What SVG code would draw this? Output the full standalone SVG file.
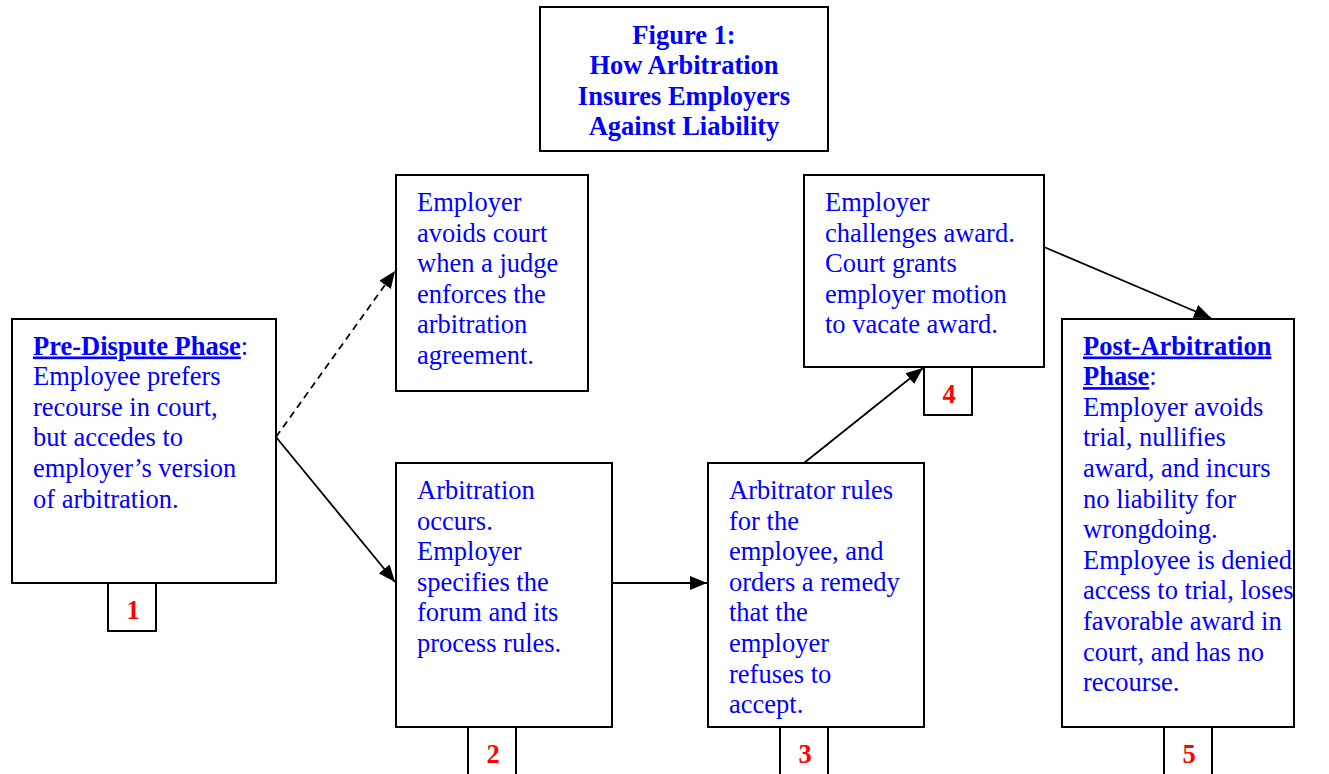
<svg xmlns="http://www.w3.org/2000/svg" width="1329" height="774" viewBox="0 0 1329 774">
<style>
.box{fill:#fff;stroke:#000;stroke-width:2}
.t{font-family:"Liberation Serif","Times New Roman",serif;font-size:26.5px;fill:#0000ff}
.b{font-weight:bold}
.u{text-decoration:underline}
.num{font-family:"Liberation Serif","Times New Roman",serif;font-size:26.5px;font-weight:bold;fill:#ff0000;text-anchor:middle}
.c{fill:none;stroke:#000;stroke-width:1.8}
</style>
<defs>
<marker id="ah" markerUnits="userSpaceOnUse" markerWidth="18" markerHeight="14" refX="17" refY="7" orient="auto">
<path d="M0,0 L17,7 L0,14 z" fill="#000"/>
</marker>
</defs>
<rect width="1329" height="774" fill="#fff"/>

<g id="title">
<rect class="box" x="540" y="7" width="288" height="144"/>
<text class="t b" text-anchor="middle" x="684" y="43.5">Figure 1:</text>
<text class="t b" text-anchor="middle" x="684" y="74">How Arbitration</text>
<text class="t b" text-anchor="middle" x="684" y="104.5">Insures Employers</text>
<text class="t b" text-anchor="middle" x="684" y="135">Against Liability</text>
</g>

<g id="connectors">
<line class="c" x1="276" y1="437" x2="395" y2="271" stroke-dasharray="7,5" marker-end="url(#ah)"/>
<line class="c" x1="276" y1="437" x2="395" y2="582" marker-end="url(#ah)"/>
<line class="c" x1="612" y1="583" x2="707" y2="583" marker-end="url(#ah)"/>
<line class="c" x1="804" y1="463" x2="923" y2="368" marker-end="url(#ah)"/>
<line class="c" x1="1044" y1="247" x2="1211" y2="318" marker-end="url(#ah)"/>
</g>

<g id="node1">
<rect class="box" x="12" y="319" width="264" height="264"/>
<text class="t" x="33" y="354.5"><tspan class="b u">Pre-Dispute Phase</tspan>:</text>
<text class="t" x="33" y="385.1">Employee prefers</text>
<text class="t" x="33" y="415.7">recourse in court,</text>
<text class="t" x="33" y="446.3">but accedes to</text>
<text class="t" x="33" y="476.9">employer’s version</text>
<text class="t" x="33" y="507.5">of arbitration.</text>
<rect class="box" x="108" y="583" width="48" height="48"/>
<text class="num" x="133" y="618.5">1</text>
</g>

<g id="node-avoid">
<rect class="box" x="396" y="175" width="192" height="216"/>
<text class="t" x="417" y="211">Employer</text>
<text class="t" x="417" y="241.6">avoids court</text>
<text class="t" x="417" y="272.2">when a judge</text>
<text class="t" x="417" y="302.8">enforces the</text>
<text class="t" x="417" y="333.4">arbitration</text>
<text class="t" x="417" y="364">agreement.</text>
</g>

<g id="node2">
<rect class="box" x="396" y="463" width="216" height="264"/>
<text class="t" x="417" y="499">Arbitration</text>
<text class="t" x="417" y="529.6">occurs.</text>
<text class="t" x="417" y="560.2">Employer</text>
<text class="t" x="417" y="590.8">specifies the</text>
<text class="t" x="417" y="621.4">forum and its</text>
<text class="t" x="417" y="652">process rules.</text>
<rect class="box" x="468" y="727" width="48" height="50"/>
<text class="num" x="493" y="762.5">2</text>
</g>

<g id="node3">
<rect class="box" x="708" y="463" width="216" height="264"/>
<text class="t" x="729" y="499">Arbitrator rules</text>
<text class="t" x="729" y="529.6">for the</text>
<text class="t" x="729" y="560.2">employee, and</text>
<text class="t" x="729" y="590.8">orders a remedy</text>
<text class="t" x="729" y="621.4">that the</text>
<text class="t" x="729" y="652">employer</text>
<text class="t" x="729" y="682.6">refuses to</text>
<text class="t" x="729" y="713.2">accept.</text>
<rect class="box" x="780" y="727" width="48" height="50"/>
<text class="num" x="805" y="762.5">3</text>
</g>

<g id="node4">
<rect class="box" x="804" y="175" width="240" height="192"/>
<text class="t" x="825" y="211">Employer</text>
<text class="t" x="825" y="241.6">challenges award.</text>
<text class="t" x="825" y="272.2">Court grants</text>
<text class="t" x="825" y="302.8">employer motion</text>
<text class="t" x="825" y="333.4">to vacate award.</text>
<rect class="box" x="924" y="367" width="48" height="48"/>
<text class="num" x="949" y="402.5">4</text>
</g>

<g id="node5">
<rect class="box" x="1062" y="319" width="232" height="408"/>
<text class="t" x="1083" y="354.5"><tspan class="b u">Post-Arbitration</tspan></text>
<text class="t" x="1083" y="385.1"><tspan class="b u">Phase</tspan>:</text>
<text class="t" x="1083" y="415.7">Employer avoids</text>
<text class="t" x="1083" y="446.3">trial, nullifies</text>
<text class="t" x="1083" y="476.9">award, and incurs</text>
<text class="t" x="1083" y="507.5">no liability for</text>
<text class="t" x="1083" y="538.1">wrongdoing.</text>
<text class="t" x="1083" y="568.7">Employee is denied</text>
<text class="t" x="1083" y="599.3">access to trial, loses</text>
<text class="t" x="1083" y="629.9">favorable award in</text>
<text class="t" x="1083" y="660.5">court, and has no</text>
<text class="t" x="1083" y="691.1">recourse.</text>
<rect class="box" x="1164" y="727" width="48" height="50"/>
<text class="num" x="1189" y="762.5">5</text>
</g>
</svg>
